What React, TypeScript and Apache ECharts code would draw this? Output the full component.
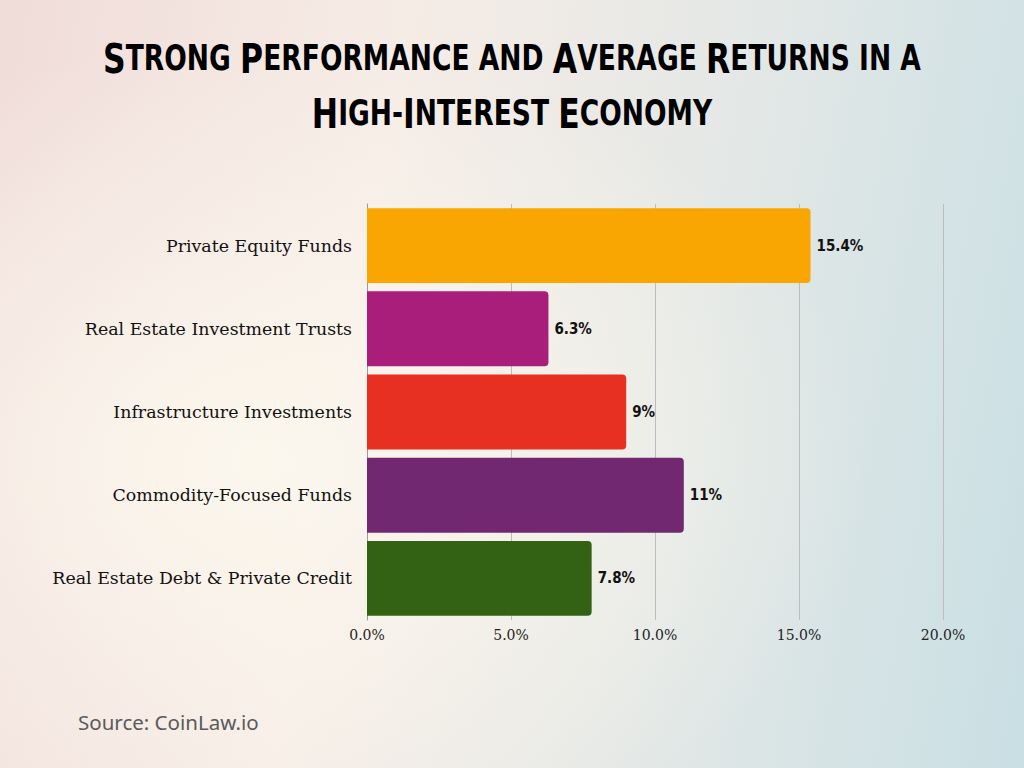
import React, { useEffect, useRef } from "react";
import * as echarts from "echarts";

const titleLines = ["Strong Performance and Average Returns in a", "High-Interest Economy"];
const categories = [
  "Private Equity Funds",
  "Real Estate Investment Trusts",
  "Infrastructure Investments",
  "Commodity-Focused Funds",
  "Real Estate Debt & Private Credit",
];
const values = [15.4, 6.3, 9, 11, 7.8];
const valueLabels = ["15.4%", "6.3%", "9%", "11%", "7.8%"];
const barColors = ["#F9A602", "#A91E7A", "#E83022", "#722870", "#346214"];
const sourceText = "Source: CoinLaw.io";

function toRich(line: string): string {
  let out = "";
  let cur = "";
  let curStyle = "";
  const flush = () => {
    if (cur) out += `{${curStyle}|${cur}}`;
    cur = "";
  };
  for (const ch of line) {
    const isUpper = ch !== ch.toLowerCase();
    const style = isUpper ? "big" : "small";
    if (style !== curStyle) {
      flush();
      curStyle = style;
    }
    cur += ch.toUpperCase();
  }
  flush();
  return out;
}

export default function App() {
  const ref = useRef<HTMLDivElement>(null);
  useEffect(() => {
    if (!ref.current) return;
    const chart = echarts.init(ref.current, null, { renderer: "svg" });
    const titleFont = '"DejaVu Sans Condensed", "DejaVu Sans", sans-serif';
    const rich = {
      big: { fontFamily: titleFont, fontWeight: "bold", fontSize: 35, color: "#111" },
      small: { fontFamily: titleFont, fontWeight: "bold", fontSize: 29.5, color: "#111" },
    };
    chart.setOption({
      animation: false,
      backgroundColor: "transparent",
      grid: { left: 367, right: 81, top: 204, bottom: 148, containLabel: false },
      xAxis: {
        type: "value",
        min: 0,
        max: 20,
        interval: 5,
        axisLine: { show: false },
        axisTick: { show: false },
        splitLine: { show: true, lineStyle: { color: "#bdbdbd", width: 1 } },
        axisLabel: {
          formatter: (v: number) => v.toFixed(1) + "%",
          fontFamily: '"DejaVu Serif", "Liberation Serif", serif',
          fontSize: 14,
          color: "#222",
          margin: 8,
        },
      },
      yAxis: {
        type: "category",
        data: categories,
        inverse: true,
        axisLine: { show: true, lineStyle: { color: "#9a9a9a", width: 1 } },
        axisTick: { show: false },
        axisLabel: {
          fontFamily: '"DejaVu Serif", "Liberation Serif", serif',
          fontSize: 17.4,
          color: "#111",
          margin: 15,
        },
      },
      series: [
        {
          type: "bar",
          data: values.map((v, i) => ({ value: v, itemStyle: { color: barColors[i] } })),
          barCategoryGap: "10%",
          itemStyle: { borderRadius: [0, 4, 4, 0] },
          label: {
            show: true,
            position: "right",
            distance: 6,
            formatter: (p: any) => valueLabels[p.dataIndex],
            fontFamily: titleFont,
            fontWeight: "bold",
            fontSize: 15,
            color: "#111",
          },
          z: 3,
        },
      ],
      graphic: [
        {
          type: "text",
          x: 512,
          y: 58,
          scaleY: 1.18,
          style: { text: toRich(titleLines[0]), rich, align: "center", verticalAlign: "middle" },
        },
        {
          type: "text",
          x: 512,
          y: 113,
          scaleY: 1.18,
          style: { text: toRich(titleLines[1]), rich, align: "center", verticalAlign: "middle" },
        },
        {
          type: "text",
          left: 78,
          top: 711,
          style: {
            text: sourceText,
            fontFamily: '"Noto Sans", "Open Sans", sans-serif',
            fontSize: 20.5,
            fill: "#5a5a5a",
          },
        },
      ],
    });
    return () => chart.dispose();
  }, []);
  return (
    <div
      style={{
        position: "fixed",
        left: 0,
        top: 0,
        width: 1024,
        height: 768,
        background:
          "radial-gradient(ellipse 60% 55% at 25% 60%, rgba(252,248,238,0.95), rgba(252,248,238,0) 100%), linear-gradient(100deg, #f0dcd9 0%, #f6ece6 35%, #e4e8e6 65%, #c9dfe4 100%), linear-gradient(180deg, #efdcdb, #fbe3dc)",
      }}
    >
      <div ref={ref} style={{ width: 1024, height: 768 }} />
    </div>
  );
}
